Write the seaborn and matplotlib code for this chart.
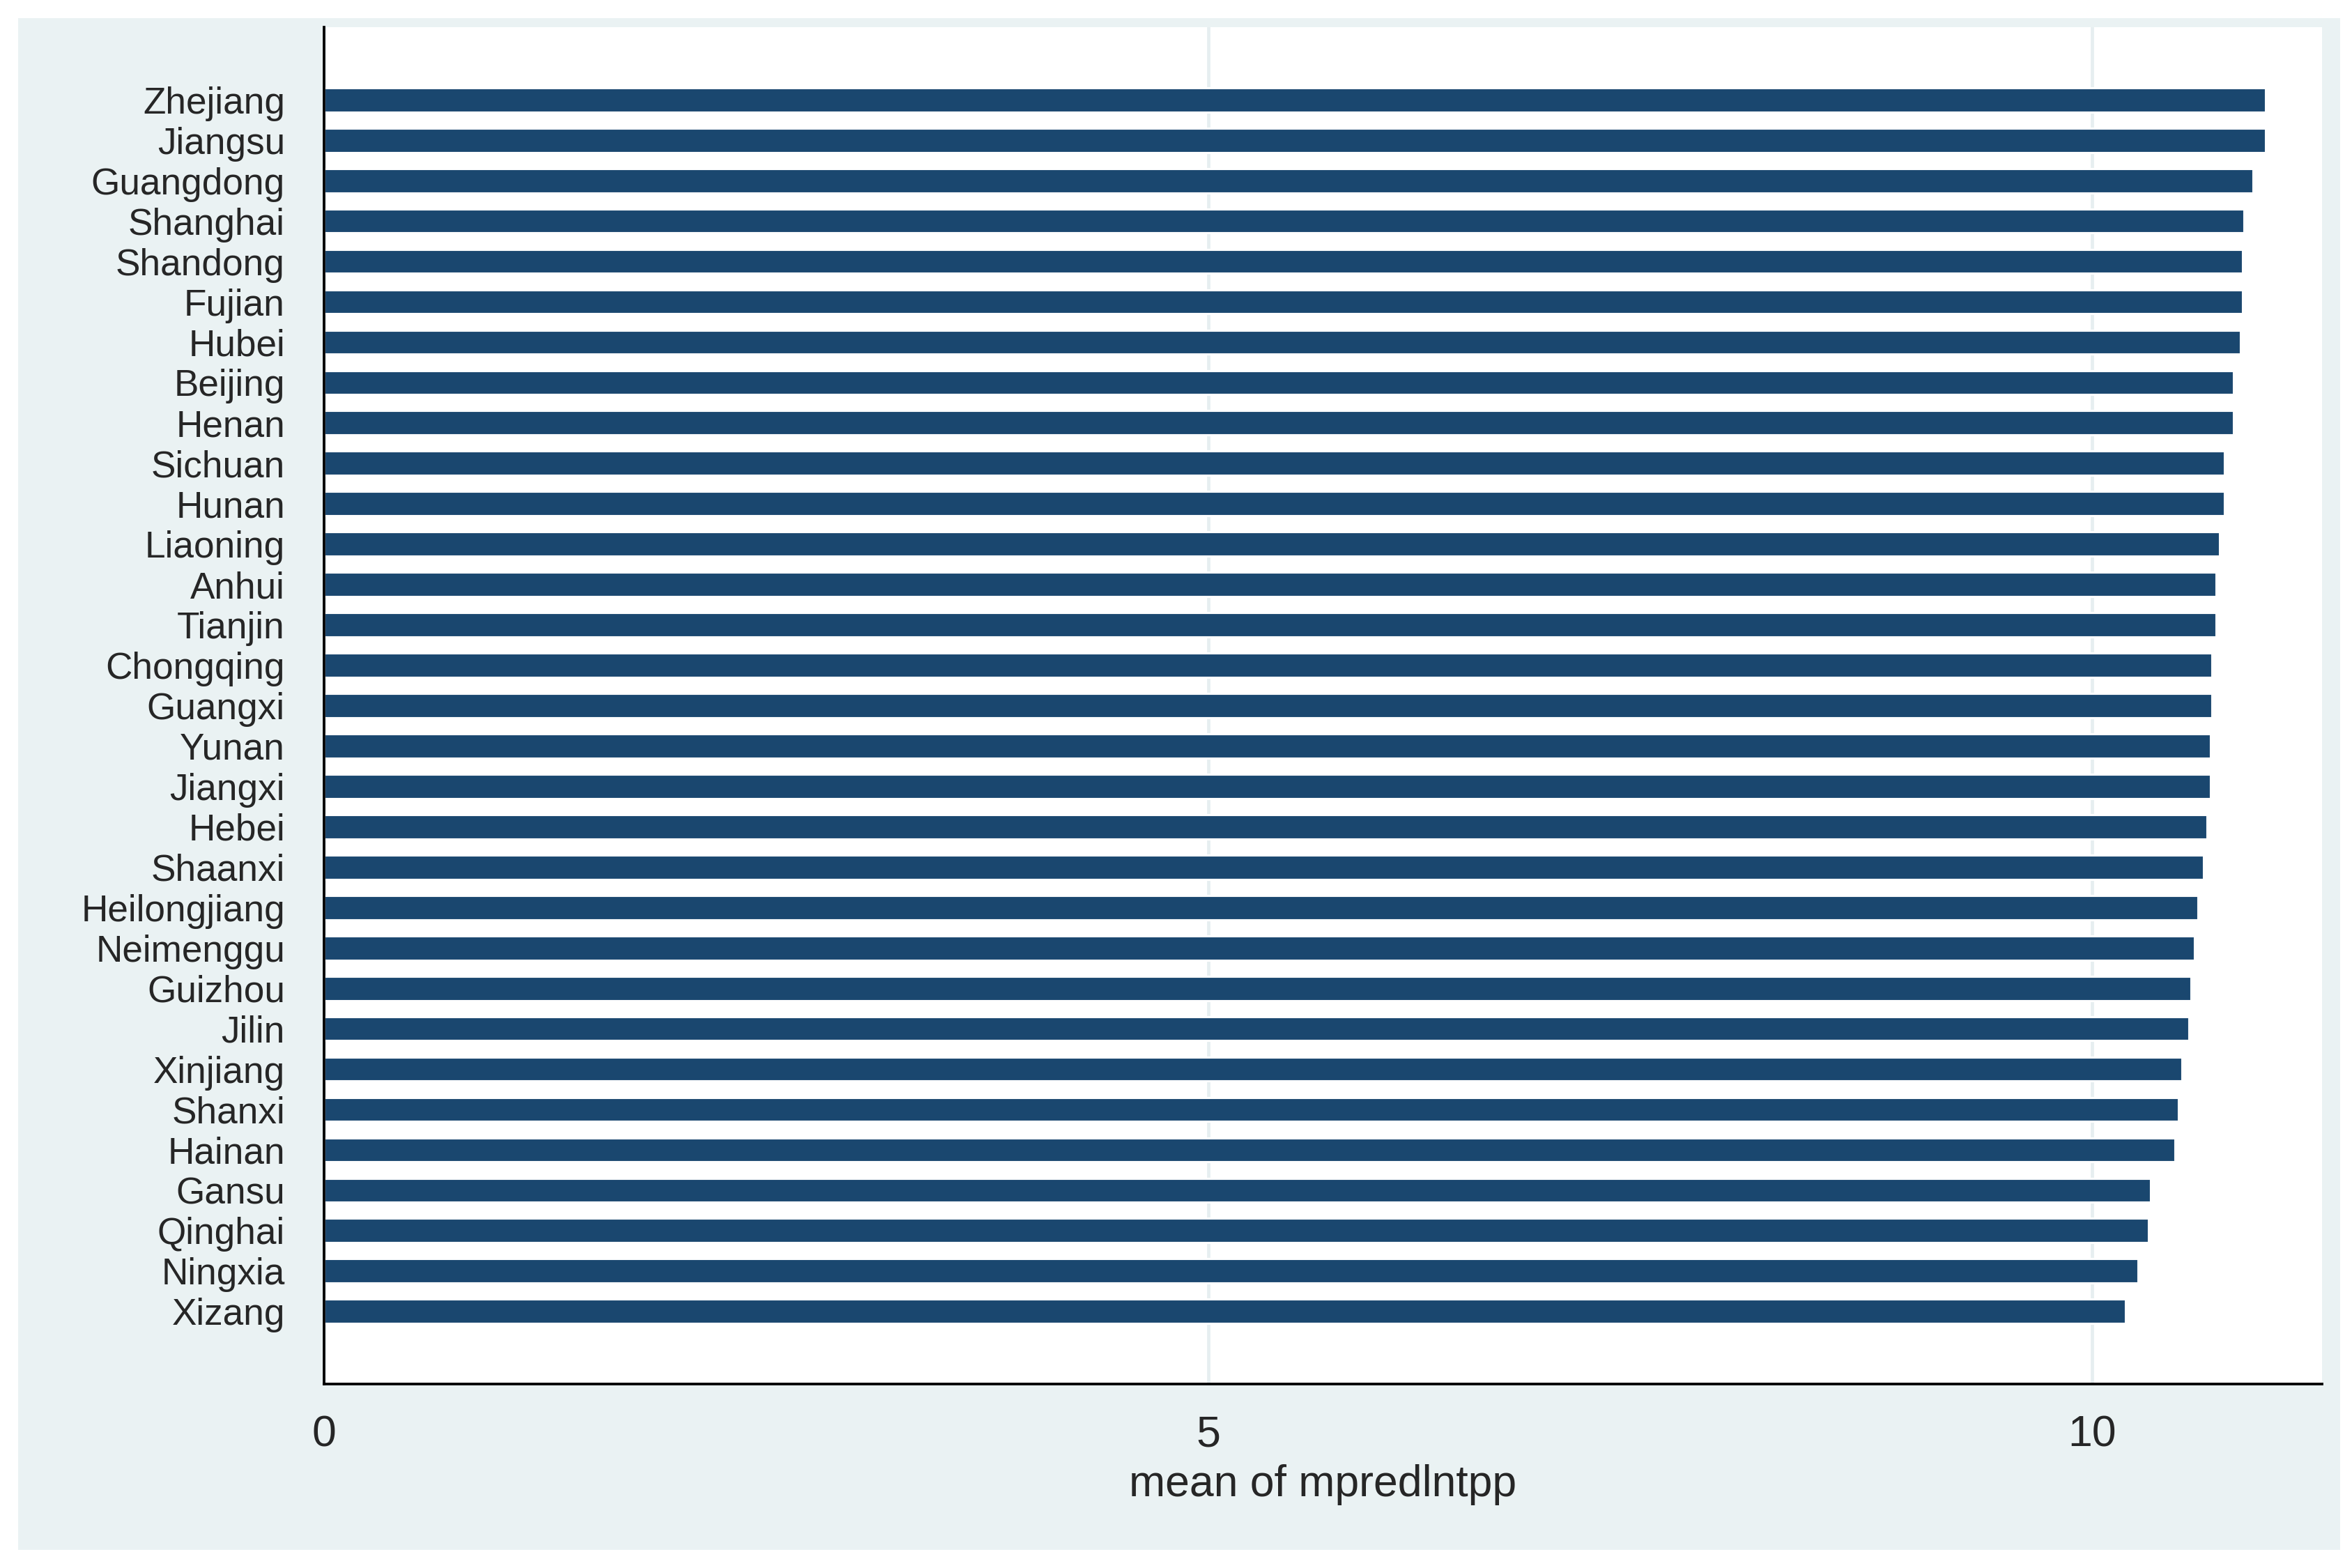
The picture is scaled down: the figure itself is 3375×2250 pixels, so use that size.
import matplotlib
matplotlib.use("Agg")
import matplotlib.pyplot as plt
from matplotlib.patches import Rectangle
import pandas as pd
import seaborn as sns

provinces = ["Zhejiang", "Jiangsu", "Guangdong", "Shanghai", "Shandong", "Fujian", "Hubei",
             "Beijing", "Henan", "Sichuan", "Hunan", "Liaoning", "Anhui", "Tianjin",
             "Chongqing", "Guangxi", "Yunan", "Jiangxi", "Hebei", "Shaanxi", "Heilongjiang",
             "Neimenggu", "Guizhou", "Jilin", "Xinjiang", "Shanxi", "Hainan", "Gansu",
             "Qinghai", "Ningxia", "Xizang"]
mean_values = [10.98, 10.98, 10.91, 10.86, 10.85, 10.85, 10.84, 10.80, 10.80, 10.75, 10.75,
               10.72, 10.70, 10.70, 10.68, 10.68, 10.67, 10.67, 10.65, 10.63, 10.60, 10.58,
               10.56, 10.55, 10.51, 10.49, 10.47, 10.33, 10.32, 10.26, 10.19]

df = pd.DataFrame({"province": provinces, "value": mean_values})

sns.set_style("white")
plt.rcParams["font.family"] = ["Liberation Sans", "DejaVu Sans"]

fig = plt.figure(figsize=(15, 10), dpi=225)
fig.patch.set_facecolor("white")
# outer light panel like Stata's scheme (kept behind the axes)
fig.patches.append(Rectangle((12 / 1560, 12 / 1040), 1540 / 1560, 1016 / 1040,
                             transform=fig.transFigure, facecolor="#eaf2f3",
                             edgecolor="none", zorder=-10))
ax = fig.add_axes([215 / 1560, 122 / 1040, 1325 / 1560, 900 / 1040])
ax.set_facecolor("white")

sns.barplot(data=df, y="province", x="value", orient="h", color="#1a476f",
            saturation=1, width=0.6, ax=ax)

ax.set_xlim(0, 11.3)
ax.set_ylim(len(provinces) - 1 + 1.8, -1.8)
ax.set_xticks([0, 5, 10])
ax.set_xticklabels(["0", "5", "10"], fontsize=20)
ax.tick_params(axis="y", labelsize=17, length=0, pad=18)
ax.tick_params(axis="x", length=6, pad=8)
ax.xaxis.grid(True, color="#e6eef0", linewidth=1.5)
ax.set_axisbelow(True)
ax.set_ylabel("")
ax.set_xlabel("mean of mpredlntpp", fontsize=20, labelpad=4)
for side in ["top", "right"]:
    ax.spines[side].set_visible(False)
for side in ["left", "bottom"]:
    ax.spines[side].set_color("black")
    ax.spines[side].set_linewidth(1.2)

fig.savefig("out.png", dpi=225)
